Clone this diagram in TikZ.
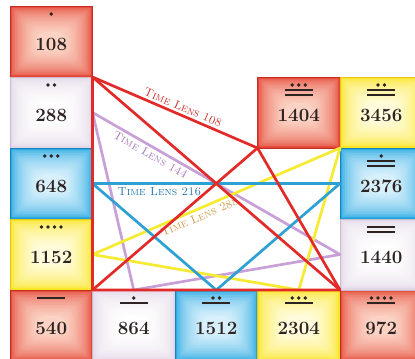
\documentclass[tikz,border=0pt]{standalone}
\usepackage{tikz}

\definecolor{lensred}{RGB}{226,42,40}
\definecolor{lenspurple}{RGB}{200,160,215}
\definecolor{lensblue}{RGB}{45,160,212}
\definecolor{lensyellow}{RGB}{246,234,50}
\definecolor{txtred}{RGB}{205,45,45}
\definecolor{txtpurple}{RGB}{165,122,185}
\definecolor{txtblue}{RGB}{38,120,170}
\definecolor{txttan}{RGB}{208,152,72}
\definecolor{glyphcol}{RGB}{45,35,35}
% cell edge, cell middle and outline
\definecolor{redout}{RGB}{228,66,50}
\definecolor{redin}{RGB}{251,210,195}
\definecolor{redline}{RGB}{195,45,35}
\definecolor{blueout}{RGB}{30,165,225}
\definecolor{bluein}{RGB}{215,240,252}
\definecolor{blueline}{RGB}{25,130,190}
\definecolor{yellowout}{RGB}{250,228,30}
\definecolor{yellowin}{RGB}{255,252,220}
\definecolor{yellowline}{RGB}{230,200,20}
\definecolor{whiteout}{RGB}{226,214,230}
\definecolor{whitein}{RGB}{255,255,255}
\definecolor{whiteline}{RGB}{200,190,205}

\tikzset{
  cell/.style n args={3}{draw=#3, line width=0.6pt, minimum width=2.475cm, minimum height=2.13cm,
    inner sep=0pt, outer sep=0pt, font=\fontsize{16}{16}\selectfont\bfseries,
    text=glyphcol, text height=16pt, text depth=0pt,
    path picture={
      \fill[#1] (path picture bounding box.south west) rectangle (path picture bounding box.north east);
      \foreach \i in {1,...,16}{
        \pgfmathtruncatemacro\mix{100*sqrt(\i/16)}
        \fill[#2!\mix!#1, rounded corners=\i*0.5pt]
          ([shift={(\i*1.4pt,\i*1.4pt)}]path picture bounding box.south west) rectangle
          ([shift={(-\i*1.4pt,-\i*1.4pt)}]path picture bounding box.north east);
      }}},
  redcell/.style={cell={redout}{redin}{redline}},
  bluecell/.style={cell={blueout}{bluein}{blueline}},
  yellowcell/.style={cell={yellowout}{yellowin}{yellowline}},
  whitecell/.style={cell={whiteout}{whitein}{whiteline}},
  lens/.style={line width=2.3pt, line join=round, line cap=round},
  lenslabel/.style={font=\fontsize{10}{10}\selectfont\scshape, inner sep=2pt}
}

% dots over bars, hung from the top of a cell
\newcommand{\maya}[3]{%
  \begin{scope}[shift={(#1.north)}]
    \ifnum#2>0
      \foreach \k in {1,...,#2} \fill[glyphcol] ({(\k-(#2+1)/2)*6.5},8) circle (1.5pt);
      \def\barstart{13}
    \else
      \def\barstart{8}
    \fi
    \ifnum#3>0
      \foreach \k in {1,...,#3} \fill[glyphcol] (-14,{\barstart+(\k-1)*4.5-1}) rectangle (14,{\barstart+(\k-1)*4.5+1});
    \fi
  \end{scope}}

\begin{document}
\begin{tikzpicture}[x=0.03cm,y=-0.03cm]
  \clip (0,0) rectangle (415,358);
  \fill[white] (0,0) rectangle (415,358);

  % left column
  \node[redcell] (N108) at (51.25,41.5) {108};
  \node[whitecell] (N288) at (51.25,112.5) {288};
  \node[bluecell] (N648) at (51.25,183.5) {648};
  \node[yellowcell] (N1152) at (51.25,254.5) {1152};
  % bottom row
  \node[redcell] (N540) at (51.25,325.5) {540};
  \node[whitecell] (N864) at (133.75,325.5) {864};
  \node[bluecell] (N1512) at (216.25,325.5) {1512};
  \node[yellowcell] (N2304) at (298.75,325.5) {2304};
  \node[redcell] (N972) at (381.25,325.5) {972};
  % right side
  \node[redcell] (N1404) at (298.75,112.5) {1404};
  \node[yellowcell] (N3456) at (381.25,112.5) {3456};
  \node[bluecell] (N2376) at (381.25,183.5) {2376};
  \node[whitecell] (N1440) at (381.25,254.5) {1440};

  \maya{N108}{1}{0}
  \maya{N288}{2}{0}
  \maya{N648}{3}{0}
  \maya{N1152}{4}{0}
  \maya{N540}{0}{1}
  \maya{N864}{1}{1}
  \maya{N1512}{2}{1}
  \maya{N2304}{3}{1}
  \maya{N972}{4}{1}
  \maya{N1440}{0}{2}
  \maya{N2376}{1}{2}
  \maya{N3456}{2}{2}
  \maya{N1404}{3}{2}

  % time lenses
  \draw[lens,lenspurple] (N288.east) -- node[lenslabel,sloped,below,pos=0.25,text=txtpurple] {Time Lens 144} (N1440.west) -- (N864.north) -- cycle;
  \draw[lens,lensyellow] (N1152.east) -- node[lenslabel,sloped,below,pos=0.42,text=txttan] {Time Lens 288} (N3456.south west) -- (N2304.north) -- cycle;
  \draw[lens,lensblue] (N648.east) -- node[lenslabel,below,pos=0.27,text=txtblue] {Time Lens 216} (N2376.west) -- (N1512.north) -- cycle;
  \draw[lens,lensred] (N108.south east) -- node[lenslabel,sloped,above,pos=0.53,text=txtred] {Time Lens 108} (N1404.south west) -- (N972.north west) -- (N540.north east) -- cycle;
  \draw[lens,lensred] (N108.south east) -- (N972.north west);
  \draw[lens,lensred] (N1404.south west) -- (N540.north east);
\end{tikzpicture}
\end{document}
